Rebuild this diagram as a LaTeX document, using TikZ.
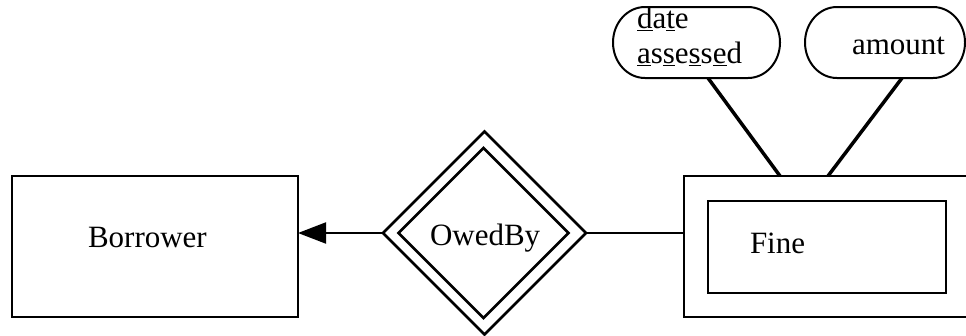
\documentclass[tikz,border=0pt]{standalone}
\usepackage{fontspec}
\setmainfont{Liberation Serif}
\usetikzlibrary{shapes.geometric,arrows.meta,calc}
\newcommand\attrshape[1]{%
  \draw[attrline] ([xshift=32pt]#1.north west) -- ([xshift=-32pt]#1.north east)
    arc[start angle=90,end angle=-90,x radius=32pt,y radius=35.5pt]
    -- ([xshift=32pt]#1.south west)
    arc[start angle=270,end angle=90,x radius=32pt,y radius=35.5pt] -- cycle;}
\tikzset{
  box/.style={draw, line width=2.2pt, inner sep=0pt, outer sep=0pt},
  rel/.style={draw, diamond, aspect=1, line width=2.7pt, inner sep=0pt, outer sep=0pt},
  attrbox/.style={inner sep=0pt, outer sep=0pt, minimum height=71pt},
  attrline/.style={line width=2pt},
  attrconn/.style={line width=3.5pt},
  link/.style={line width=2pt},
  lbl/.style={inner sep=0pt, outer sep=0pt, anchor=base west, font=\fontsize{31}{35}\selectfont}
}
\begin{document}
\begin{tikzpicture}[x=1pt,y=-1pt]
\fill[white] (0,0) rectangle (966,335);
\useasboundingbox (0,0) rectangle (966,335);
\clip (0,0) rectangle (966,335);
% entities
\node[box, minimum width=286pt, minimum height=141pt] (bor) at (155,246.5) {};
\node[lbl] (borl) at (88,247) {Borrower};
\node[box, minimum width=306pt, minimum height=141pt] (fo) at (837,246.5) {};
\node[box, minimum width=238pt, minimum height=92pt] (fi) at (827,247) {};
\node[lbl] (fil) at (750,253) {Fine};
% relationship
\node[rel, minimum width=203pt, minimum height=203pt] (ob) at (484.5,233) {};
\node[rel, minimum width=170pt, minimum height=170pt] (obi) at (483.5,233) {};
\node[lbl] (obl) at (430,245) {OwedBy};
% attributes
\node[attrbox, minimum width=167pt] (da) at (696.5,42.5) {};
\attrshape{da}
\node[lbl] (dal1) at (637,28) {\underline{d}a\underline{t}e};
\node[lbl] (dal2) at (637,63) {\underline{a}s\underline{s}e\underline{s}s\underline{e}d};
\node[attrbox, minimum width=160pt] (am) at (885,42.5) {};
\attrshape{am}
\node[lbl] (aml) at (852,54) {amount};
% connectors
\draw[link, -{Triangle[length=28pt,width=21pt]}] (ob.west) -- (ob.west -| bor.east);
\draw[link] (ob.east) -- (ob.east -| fo.west);
\draw[attrconn] ($(da.south)+(11.5,0)$) -- ($(fo.north west)+(96,0)$);
\draw[attrconn] ($(am.south)+(17,0)$) -- ($(fo.north west)+(144,0)$);
\end{tikzpicture}
\end{document}
